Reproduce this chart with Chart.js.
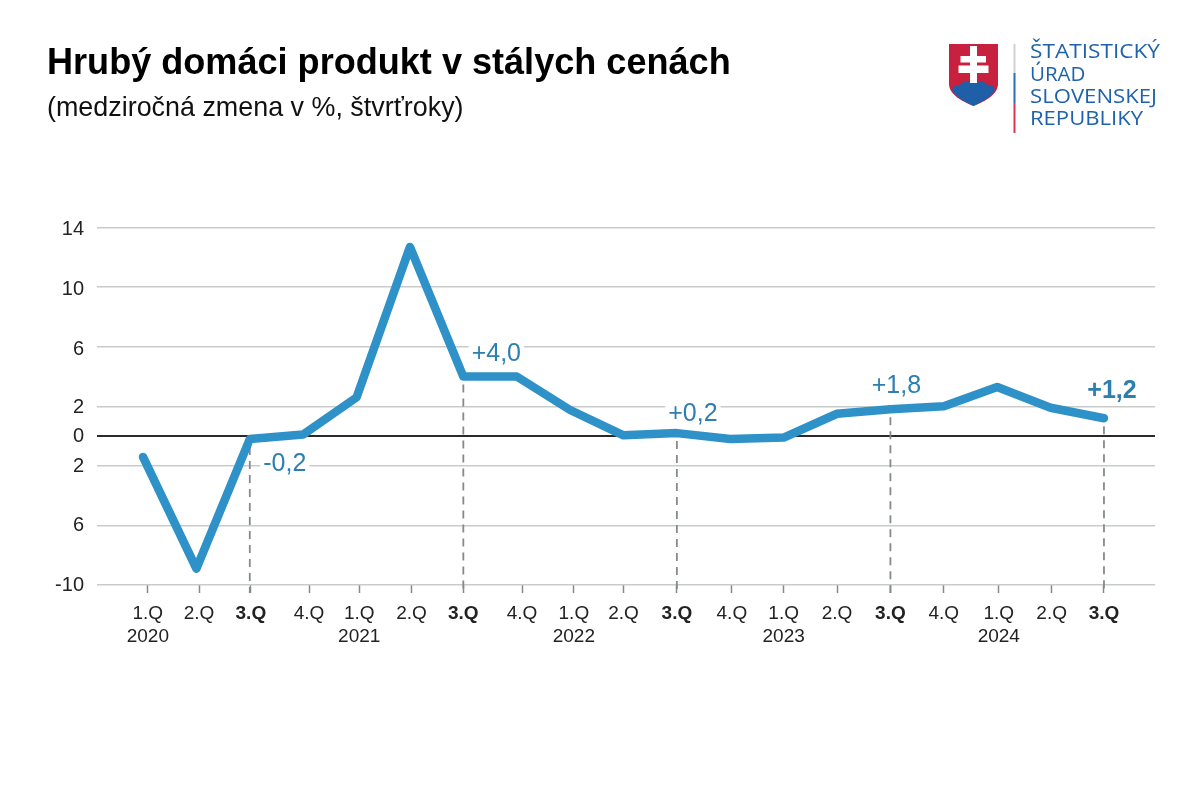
<!DOCTYPE html>
<html lang="sk">
<head>
<meta charset="utf-8">
<title>Hrubý domáci produkt v stálych cenách</title>
<script src="https://cdn.jsdelivr.net/npm/chart.js@4"></script>
<style>
html,body{margin:0;padding:0;background:#fff;}
#wrap{position:relative;width:1200px;height:806px;overflow:hidden;}
#logo{position:absolute;left:0;top:0;}
canvas{position:absolute;left:0;top:0;}
</style>
</head>
<body>
<div id="wrap">
<canvas id="c" width="1200" height="806"></canvas>
<svg id="logo" width="1200" height="140" viewBox="0 0 1200 140" xmlns="http://www.w3.org/2000/svg">
  <path d="M949 44H998V84C998 94 986 101 973.5 106C961 101 949 94 949 84Z" fill="#c8203f"/>
  <path d="M952 90C954 84 958 86 961 84C964 80 968 83 973.5 81C979 83 983 80 986 84C989 86 993 84 995 90C991 97 982 102 973.5 106C965 102 956 97 952 90Z" fill="#1f5fa8"/>
  <path d="M970 46H977V56H986V62.5H977V65.5H988.5V73H977V83H970V73H958.5V65.5H970V62.5H960.5V56H970Z" fill="#fff"/>
  <rect x="1013.5" y="44" width="2" height="29" fill="#cfd2d2"/>
  <rect x="1013.5" y="73" width="2" height="30" fill="#2a6db5"/>
  <rect x="1013.5" y="103" width="2" height="30" fill="#d9364f"/>
  <g font-family="'Open Sans','Noto Sans',sans-serif" font-size="20.5" fill="#1f62ab">
    <text x="1030" y="58" textLength="130" lengthAdjust="spacingAndGlyphs">ŠTATISTICKÝ</text>
    <text x="1030" y="81">ÚRAD</text>
    <text x="1030" y="103" textLength="127" lengthAdjust="spacingAndGlyphs">SLOVENSKEJ</text>
    <text x="1030" y="125" textLength="113" lengthAdjust="spacingAndGlyphs">REPUBLIKY</text>
  </g>
</svg>
</div>
<script>
const quarterLabels = ['1.Q','2.Q','3.Q','4.Q','1.Q','2.Q','3.Q','4.Q','1.Q','2.Q','3.Q','4.Q','1.Q','2.Q','3.Q','4.Q','1.Q','2.Q','3.Q'];
const yearLabels = ['2020','','','','2021','','','','2022','','','','2023','','','','2024','','',''];
const gdpChange = [-1.4,-8.9,-0.2,0.1,2.6,12.7,4.0,4.0,1.75,0.05,0.2,-0.2,-0.1,1.5,1.8,2.0,3.3,1.9,1.2];
const yTickValues = [-10,-6,-2,0,2,6,10,14];
const yTickLabels = ['-10','6','2','0','2','6','10','14'];
const xTickPositions = [0.09,1.05,2.02,3.11,4.05,5.03,6.0,7.1,8.07,9.0,10.0,11.03,12.0,13.0,14.0,15.0,16.03,17.02,18.0];
const calloutIndex = [2,6,10,14,18];
const calloutText = ['-0,2','+4,0','+0,2','+1,8','+1,2'];

const titleText = 'Hrubý domáci produkt v stálych cenách';
const subtitleText = '(medziročná zmena v %, štvrťroky)';
const FONT = "'Liberation Sans', Arial, sans-serif";
const calloutOffset = [[35,25],[33,-22],[16,-19],[6,-23],[8,-27]];
const yLabelNudge = [0,0,1,0,1,3,2,2];
const points = gdpChange.map((v,i)=>({x:i,y:v}));

const callouts = {
  id:'callouts',
  beforeDraw(chart){
    chart.scales.y.getLabelItems(chart.chartArea).forEach((item,i)=>{
      if(!item._nudged){item.options.translation[1]+=yLabelNudge[i];item._nudged=true;}
    });
  },
  beforeDatasetsDraw(chart){
    const {ctx,scales:{x,y}} = chart;
    ctx.save();
    ctx.strokeStyle='#858a8c';
    ctx.lineWidth=1.8;
    ctx.setLineDash([8,6]);
    calloutIndex.forEach(i=>{
      const px=x.getPixelForValue(i);
      ctx.beginPath();
      ctx.moveTo(px,y.getPixelForValue(gdpChange[i])+8);
      ctx.lineTo(px,y.getPixelForValue(-10)+8);
      ctx.stroke();
    });
    ctx.restore();
  },
  afterDatasetsDraw(chart){
    const {ctx,scales:{x,y}} = chart;
    ctx.save();
    ctx.textAlign='center';
    ctx.textBaseline='middle';
    calloutIndex.forEach((i,k)=>{
      const bold = k===calloutIndex.length-1;
      ctx.font=(bold?'bold ':'')+'25px '+FONT;
      const cx=x.getPixelForValue(i)+calloutOffset[k][0];
      const cy=y.getPixelForValue(gdpChange[i])+calloutOffset[k][1];
      const w=ctx.measureText(calloutText[k]).width;
      ctx.fillStyle='#fff';
      ctx.fillRect(cx-w/2-3,cy-12,w+6,24);
      ctx.fillStyle='#2d7fb0';
      ctx.fillText(calloutText[k],cx,cy);
    });
    ctx.restore();
  }
};

new Chart(document.getElementById('c'),{
  type:'line',
  data:{datasets:[{
    label:'Medziročná zmena HDP',
    data:points,
    borderColor:'#2e91c7',
    borderWidth:8.5,
    borderCapStyle:'round',
    borderJoinStyle:'round',
    pointRadius:0,
    tension:0,
    clip:false
  }]},
  options:{
    responsive:false,
    animation:false,
    devicePixelRatio:1,
    layout:{padding:{left:47,right:45,top:0,bottom:151}},
    plugins:{
      legend:{display:false},
      tooltip:{enabled:false},
      title:{display:true,text:titleText,align:'start',color:'#000',
        font:{family:FONT,size:36.1,weight:'bold',lineHeight:1.2},
        padding:{top:42,bottom:7}},
      subtitle:{display:true,text:subtitleText,align:'start',color:'#111',
        font:{family:FONT,size:26.9,weight:'normal',lineHeight:1.2},
        padding:{top:0,bottom:103}}
    },
    scales:{
      x:{
        type:'linear',min:-0.862,max:18.956,
        afterBuildTicks(s){s.ticks=xTickPositions.map(value=>({value}));},
        afterFit(s){s.height=70;},
        border:{display:false},
        grid:{drawOnChartArea:false,drawTicks:true,tickLength:8,tickColor:'#85898a',tickWidth:1.5},
        ticks:{
          autoSkip:false,maxRotation:0,minRotation:0,padding:9,color:'#222',
          font(ctx){return {family:FONT,size:19,lineHeight:1.22,weight:quarterLabels[ctx.index]==='3.Q'?'bold':'normal'};},
          callback(v,i){return yearLabels[i]?[quarterLabels[i],yearLabels[i]]:quarterLabels[i];}
        }
      },
      y:{
        type:'linear',min:-10,max:14,
        afterBuildTicks(s){s.ticks=yTickValues.map(value=>({value}));},
        afterFit(s){s.width=50;},
        border:{display:false},
        grid:{
          drawTicks:false,
          color(ctx){return ctx.tick&&ctx.tick.value===0?'#2a2a2a':'#c9cbcb';},
          lineWidth(ctx){return ctx.tick&&ctx.tick.value===0?2:1.5;}
        },
        ticks:{
          padding:13,color:'#222',
          font:{family:FONT,size:20},
          callback(v,i){return yTickLabels[i];}
        }
      }
    }
  },
  plugins:[callouts]
});
</script>
</body>
</html>
